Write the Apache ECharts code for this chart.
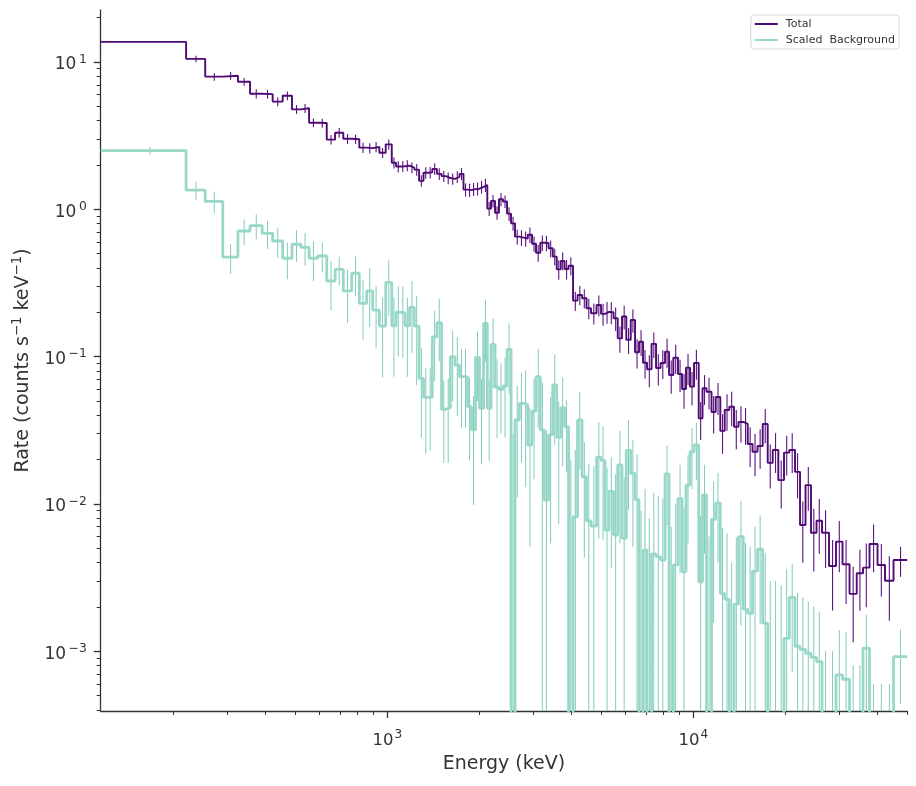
<!DOCTYPE html>
<html>
<head>
<meta charset="utf-8">
<script src="https://cdn.jsdelivr.net/npm/echarts@6/dist/echarts.min.js"></script>
<style>
html,body{margin:0;padding:0;background:#fff;}
#chart{width:916px;height:786px;}
</style>
</head>
<body>
<div id="chart"></div>
<script>
// ---- data ----
const binEdges = [115.7, 220, 254, 290, 325, 356, 390, 422, 455, 488,
  522, 555, 592, 634, 675, 718, 765, 810, 856, 896,
  942, 988, 1034, 1068, 1104, 1143, 1182, 1225, 1270, 1313,
  1358, 1403, 1453, 1504, 1555, 1607, 1664, 1722, 1774, 1829,
  1885, 1942, 2001, 2063, 2122, 2182, 2249, 2317, 2388, 2462,
  2537, 2614, 2701, 2787, 2877, 2971, 3062, 3162, 3259, 3364,
  3472, 3578, 3688, 3795, 3911, 4045, 4185, 4329, 4477, 4631,
  4829, 4994, 5146, 5303, 5486, 5662, 5848, 6039, 6244, 6450,
  6646, 6850, 7060, 7303, 7554, 7814, 8083, 8331, 8604, 8913,
  9186, 9465, 9755, 10053, 10414, 10717, 11044, 11468, 11836, 12252,
  12665, 13110, 13583, 14051, 14568, 15059, 15613, 16209, 16857, 17503,
  18175, 18958, 19788, 20593, 21498, 22321, 23265, 24245, 25270, 26339,
  27765, 29262, 30735, 32400, 34198, 35860, 37656, 39994, 42316, 45112, 50000];

const totalRate = [13.7, 10.5, 7.95, 8.07, 7.35, 6.09, 6.05, 5.38, 5.90, 4.77,
  4.85, 3.87, 3.85, 2.97, 3.31, 3.01, 2.99, 2.62, 2.60, 2.65,
  2.42, 2.76, 2.07, 1.95, 1.96, 1.98, 1.92, 1.86, 1.56, 1.77,
  1.78, 1.88, 1.74, 1.68, 1.63, 1.61, 1.66, 1.74, 1.36, 1.35,
  1.37, 1.38, 1.42, 1.46, 1.01, 1.14, 0.948, 1.17, 1.13, 0.934,
  0.803, 0.652, 0.642, 0.632, 0.672, 0.584, 0.507, 0.593, 0.59, 0.544,
  0.477, 0.391, 0.446, 0.393, 0.414, 0.240, 0.262, 0.249, 0.213, 0.197,
  0.224, 0.195, 0.201, 0.200, 0.182, 0.133, 0.187, 0.130, 0.177, 0.107,
  0.126, 0.0909, 0.0820, 0.122, 0.0837, 0.0905, 0.108, 0.0750, 0.0983, 0.0762,
  0.0603, 0.0841, 0.0625, 0.0905, 0.0381, 0.0609, 0.0577, 0.0421, 0.0532, 0.0313,
  0.0434, 0.0457, 0.0334, 0.0360, 0.0349, 0.0255, 0.0226, 0.0247, 0.0349, 0.0190,
  0.0232, 0.0145, 0.0223, 0.0232, 0.0165, 0.00719, 0.0134, 0.00637, 0.00769, 0.00637,
  0.00379, 0.00554, 0.00389, 0.00245, 0.00338, 0.00369, 0.00534, 0.00385, 0.00301, 0.00416];

const totalErr = [0.14, 0.53, 0.48, 0.48, 0.44, 0.43, 0.42, 0.38, 0.41, 0.33,
  0.34, 0.27, 0.27, 0.22, 0.25, 0.23, 0.22, 0.21, 0.21, 0.21,
  0.19, 0.22, 0.18, 0.17, 0.17, 0.17, 0.16, 0.17, 0.14, 0.16,
  0.16, 0.17, 0.16, 0.15, 0.15, 0.14, 0.15, 0.16, 0.14, 0.14,
  0.14, 0.14, 0.14, 0.15, 0.11, 0.11, 0.10, 0.12, 0.11, 0.10,
  0.088, 0.078, 0.077, 0.076, 0.081, 0.070, 0.066, 0.071, 0.071, 0.071,
  0.062, 0.059, 0.062, 0.059, 0.058, 0.036, 0.039, 0.037, 0.034, 0.032,
  0.036, 0.033, 0.034, 0.034, 0.033, 0.027, 0.034, 0.026, 0.032, 0.024,
  0.025, 0.020, 0.020, 0.024, 0.020, 0.020, 0.024, 0.019, 0.022, 0.019,
  0.016, 0.020, 0.016, 0.021, 0.011, 0.014, 0.014, 0.012, 0.013, 0.0094,
  0.012, 0.012, 0.010, 0.010, 0.0098, 0.0077, 0.0072, 0.0074, 0.0091, 0.0063,
  0.0070, 0.0052, 0.0067, 0.0070, 0.0056, 0.0032, 0.0044, 0.0029, 0.0031, 0.0027,
  0.0019, 0.0021, 0.0018, 0.0013, 0.0015, 0.0017, 0.0019, 0.0015, 0.0014, 0.00096];

const bkgRate = [2.50, 1.35, 1.13, 0.474, 0.712, 0.774, 0.687, 0.609, 0.465, 0.579,
  0.552, 0.465, 0.482, 0.326, 0.391, 0.279, 0.368, 0.230, 0.279, 0.207,
  0.161, 0.319, 0.162, 0.200, 0.198, 0.162, 0.216, 0.161, 0.0712, 0.0529,
  0.053, 0.136, 0.170, 0.0439, 0.045, 0.0998, 0.0877, 0.073, 0.073, 0.0457,
  0.0318, 0.0989, 0.0446, 0.168, 0.0446, 0.121, 0.062, 0.060, 0.0632, 0.112,
  0, 0.0371, 0.0482, 0.047, 0.0251, 0.0427, 0.073, 0.0318, 0.0106, 0.0294,
  0.0642, 0.0283, 0.045, 0.0334, 0, 0.00819, 0.0371, 0.0153, 0.00766, 0.00708,
  0.0208, 0.0197, 0.00665, 0.0122, 0.00615, 0.0184, 0.00584, 0.0231, 0.0161, 0.0107,
  0, 0.00486, 0, 0.00457, 0.00438, 0.00416, 0.0160, 0, 0.00385, 0.0109,
  0.00346, 0.0134, 0.0226, 0.0251, 0.00296, 0.0115, 0, 0.00786, 0.0101, 0.00247,
  0.00225, 0, 0.00209, 0.00599, 0.00193, 0.00181, 0.0035, 0.00492, 0.00155, 0,
  0, 0, 0.00122, 0.00232, 0.00108, 0.00103, 0.000968, 0.000909, 0.00085, 0,
  0, 0.00069, 0.000645, 0, 0, 0.00105, 0, 0, 0, 0.000918];

const bkgErr = [0.14, 0.19, 0.19, 0.11, 0.14, 0.15, 0.15, 0.14, 0.13, 0.14,
  0.14, 0.14, 0.11, 0.12, 0.086, 0.11, 0.11, 0.10, 0.12, 0.093,
  0.089, 0.13, 0.089, 0.10, 0.10, 0.089, 0.11, 0.097, 0.043, 0.031,
  0.030, 0.068, 0.077, 0.025, 0.026, 0.050, 0.048, 0.040, 0.040, 0.026,
  0.022, 0.049, 0.026, 0.076, 0.025, 0.060, 0.034, 0.030, 0.035, 0.056,
  0.030, 0.026, 0.029, 0.034, 0.020, 0.028, 0.040, 0.035, 0.021, 0.024,
  0.039, 0.021, 0.027, 0.017, 0.020, 0.015, 0.020, 0.011, 0.011, 0.011,
  0.015, 0.014, 0.011, 0.0085, 0.0098, 0.013, 0.0093, 0.014, 0.011, 0.011,
  0.009, 0.0078, 0.008, 0.0073, 0.007, 0.0067, 0.0088, 0.007, 0.0062, 0.0075,
  0.0059, 0.008, 0.010, 0.0105, 0.0053, 0.0069, 0.006, 0.0063, 0.0061, 0.0044,
  0.0041, 0.004, 0.0038, 0.0045, 0.0035, 0.0033, 0.0035, 0.0034, 0.0031, 0.003,
  0.003, 0.0028, 0.0024, 0.0016, 0.0014, 0.0013, 0.0012, 0.0011, 0.001, 0.001,
  0.001, 0.0007, 0.0007, 0.0008, 0.0008, 0.00071, 0.0006, 0.0006, 0.0006, 0.00048];

const xMajorTicks = [1000, 10000];
const xMinorTicks = [200, 300, 400, 500, 600, 700, 800, 900,
  2000, 3000, 4000, 5000, 6000, 7000, 8000, 9000, 20000, 30000, 40000, 50000];
const yMajorTicks = [0.001, 0.01, 0.1, 1, 10];
const yMinorTicks = [0.0004, 0.0005, 0.0006, 0.0007, 0.0008, 0.0009,
  0.002, 0.003, 0.004, 0.005, 0.006, 0.007, 0.008, 0.009,
  0.02, 0.03, 0.04, 0.05, 0.06, 0.07, 0.08, 0.09,
  0.2, 0.3, 0.4, 0.5, 0.6, 0.7, 0.8, 0.9,
  2, 3, 4, 5, 6, 7, 8, 9, 20];

const X_MIN = 115.7, X_MAX = 50000;
const Y_MIN = 3.926e-4, Y_MAX = 22.54;

// ---- styling ----
const PURPLE = '#4f0a73', PURPLE_ERR = '#5a1482';
const TEAL = '#99d8c9', TEAL_ERR = '#7fcdb8';
const INK = '#333333';
const FONT = 'DejaVu Sans';
const FLOOR = 1e-7; // non-positive rates fall below the visible axis

function stepData(rates) {
  const pts = rates.map((v, i) => [binEdges[i], v > 0 ? v : FLOOR]);
  const last = rates[rates.length - 1];
  pts.push([binEdges[binEdges.length - 1], last > 0 ? last : FLOOR]);
  return pts;
}
function errData(rates, errs) {
  return rates.map((v, i) => {
    const c = (binEdges[i] + binEdges[i + 1]) / 2;
    const lo = v - errs[i];
    return [c, lo > Y_MIN ? lo : Y_MIN, Math.min(v + errs[i], Y_MAX)];
  });
}
function errRenderer(color, width) {
  return function (params, api) {
    const a = api.coord([api.value(0), api.value(2)]);
    const b = api.coord([api.value(0), api.value(1)]);
    return {
      type: 'line',
      shape: { x1: a[0], y1: a[1], x2: b[0], y2: b[1] },
      style: { stroke: color, lineWidth: width }
    };
  };
}
function powLabel(v) {
  const e = Math.round(Math.log10(v));
  const s = e < 0 ? '\u2212' + (-e) : String(e);
  return '{b|10}{e|' + s + '}';
}
const richX = {
  b: { fontSize: 16.5, fontFamily: FONT, color: INK, lineHeight: 23 },
  e: { fontSize: 12, fontFamily: FONT, color: INK, lineHeight: 13, verticalAlign: 'top', padding: [0, 0, 0, 1] }
};
const richY = {
  b: { fontSize: 17, fontFamily: FONT, color: INK, lineHeight: 23 },
  e: { fontSize: 12.3, fontFamily: FONT, color: INK, lineHeight: 13, verticalAlign: 'top', padding: [0, 0, 0, 2.5] }
};

const chart = echarts.init(document.getElementById('chart'), null, { renderer: 'canvas' });
chart.setOption({
  animation: false,
  backgroundColor: '#ffffff',
  grid: { left: 100.7, right: 8.8, top: 10, bottom: 75, containLabel: false },
  legend: {
    orient: 'vertical', right: 17, top: 15,
    data: [{ name: 'Total', icon: 'rect' }, { name: 'Scaled  Background', icon: 'rect' }],
    itemWidth: 23, itemHeight: 2, itemGap: 4,
    padding: [3, 4, 3, 4],
    borderColor: '#d8d8d8', borderWidth: 1, borderRadius: 3,
    backgroundColor: 'rgba(255,255,255,0.85)',
    textStyle: { fontSize: 11, fontFamily: FONT, color: INK, lineHeight: 12, padding: [0, 0, 0, 3] }
  },
  xAxis: [{
    type: 'log', logBase: 10, min: X_MIN, max: X_MAX, position: 'bottom',
    name: 'Energy (keV)', nameLocation: 'middle', nameGap: 44,
    nameTextStyle: { fontSize: 19, fontFamily: FONT, color: INK },
    axisLine: { show: true, lineStyle: { color: INK, width: 1.3 } },
    axisTick: { show: true, customValues: xMajorTicks, length: 7, lineStyle: { color: INK, width: 1.3 } },
    axisLabel: { customValues: xMajorTicks, formatter: powLabel, rich: richX, margin: 18 },
    splitLine: { show: false }
  }, {
    type: 'log', logBase: 10, min: X_MIN, max: X_MAX, position: 'bottom',
    axisLine: { show: false },
    axisTick: { show: true, customValues: xMinorTicks, length: 4, lineStyle: { color: INK, width: 1 } },
    axisLabel: { show: false },
    splitLine: { show: false }
  }],
  yAxis: [{
    type: 'log', logBase: 10, min: Y_MIN, max: Y_MAX, position: 'left',
    name: '{n|Rate (counts s}{s|\u22121}{n| keV}{s|\u22121}{n|)}', nameLocation: 'middle', nameGap: 66,
    nameTextStyle: {
      fontSize: 19, fontFamily: FONT, color: INK,
      rich: {
        n: { fontSize: 19, fontFamily: FONT, color: INK, lineHeight: 24 },
        s: { fontSize: 13.3, fontFamily: FONT, color: INK, lineHeight: 15, verticalAlign: 'top' }
      }
    },
    axisLine: { show: true, lineStyle: { color: INK, width: 1.3 } },
    axisTick: { show: true, customValues: yMajorTicks, length: 7, lineStyle: { color: INK, width: 1.3 } },
    axisLabel: { customValues: yMajorTicks, formatter: powLabel, rich: richY, margin: 14, padding: [6, 0, 0, 0] },
    splitLine: { show: false }
  }, {
    type: 'log', logBase: 10, min: Y_MIN, max: Y_MAX, position: 'left',
    axisLine: { show: false },
    axisTick: { show: true, customValues: yMinorTicks, length: 4, lineStyle: { color: INK, width: 1 } },
    axisLabel: { show: false },
    splitLine: { show: false }
  }],
  series: [{
    name: 'Total', type: 'line', step: 'end', symbol: 'none', clip: true,
    color: PURPLE, lineStyle: { color: PURPLE, width: 1.9 }, z: 4,
    data: stepData(totalRate)
  }, {
    name: 'Total err', type: 'custom', clip: true, z: 4,
    renderItem: errRenderer(PURPLE_ERR, 1.1),
    encode: { x: 0, y: [1, 2] },
    data: errData(totalRate, totalErr)
  }, {
    name: 'Scaled  Background', type: 'line', step: 'end', symbol: 'none', clip: true,
    color: TEAL, lineStyle: { color: TEAL, width: 2.8 }, z: 3,
    data: stepData(bkgRate)
  }, {
    name: 'Background err', type: 'custom', clip: true, z: 3,
    renderItem: errRenderer(TEAL_ERR, 1),
    encode: { x: 0, y: [1, 2] },
    data: errData(bkgRate, bkgErr)
  }]
});
</script>
</body>
</html>
